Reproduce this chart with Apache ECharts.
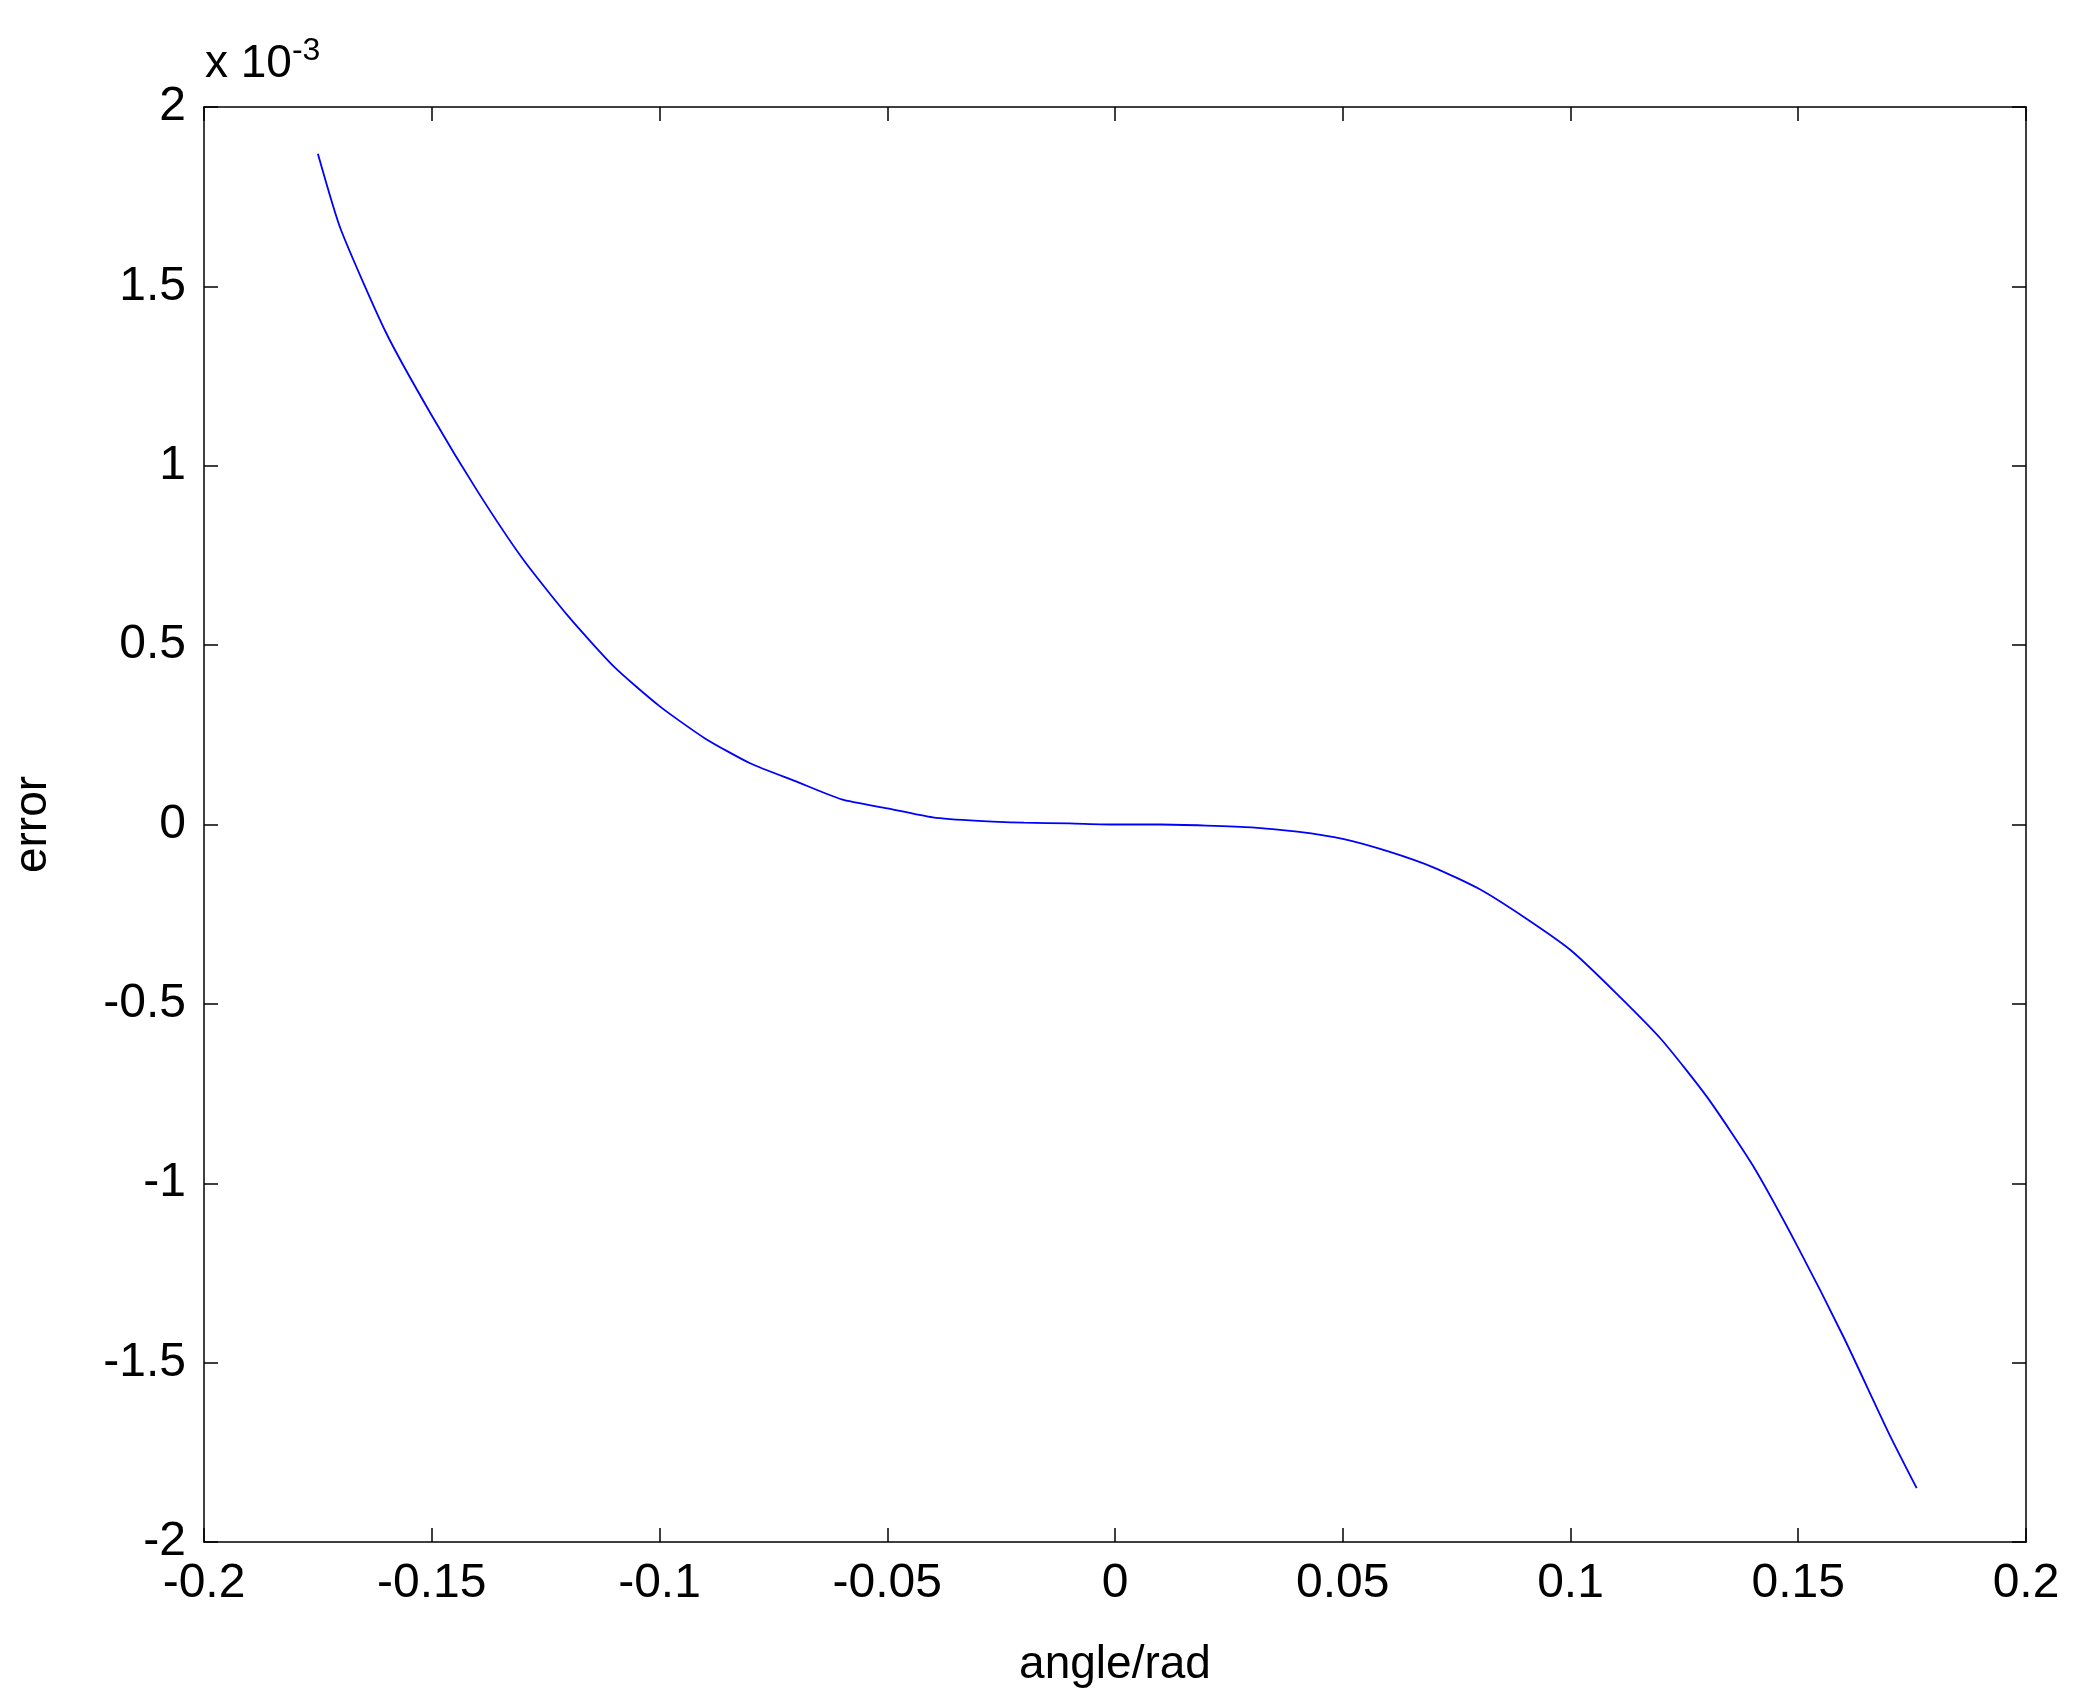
<!DOCTYPE html>
<html><head><meta charset="utf-8">
<script src="https://cdn.jsdelivr.net/npm/echarts@6/dist/echarts.min.js"></script>
<style>html,body{margin:0;background:#fff}#c{width:2080px;height:1706px}</style>
</head><body><div id="c"></div>
<script>
// angle (rad) and error (x 1e-3)
const angle = [-0.175,-0.17,-0.16,-0.15,-0.14,-0.13,-0.12,-0.11,-0.10,-0.09,-0.08,-0.07,-0.06,-0.05,-0.04,-0.03,-0.02,-0.01,0,0.01,0.02,0.03,0.04,0.05,0.06,0.07,0.08,0.09,0.10,0.11,0.12,0.13,0.14,0.15,0.16,0.17,0.176];
const error = [1.87,1.66,1.37,1.14,0.93,0.74,0.58,0.44,0.33,0.24,0.17,0.12,0.07,0.045,0.02,0.01,0.005,0.003,0,0,-0.003,-0.008,-0.02,-0.04,-0.075,-0.12,-0.18,-0.26,-0.35,-0.47,-0.60,-0.76,-0.95,-1.18,-1.43,-1.70,-1.85];

const font = 'Liberation Sans, Arial, sans-serif';
const chart = echarts.init(document.getElementById('c'));
const lbl = {color:'#000', fontSize:48, fontFamily:font, margin:18};
const line = {show:true, onZero:false, lineStyle:{color:'#000', width:1.5}};
const tick = {show:true, inside:true, length:14, lineStyle:{color:'#000', width:1.5}};
chart.setOption({
  animation:false,
  grid:{left:204, right:44+10, top:107, bottom:157+7},
  title:{text:'x 10{s|-3}', left:200, top:30,
    textStyle:{fontSize:46, fontFamily:font, fontWeight:'normal', color:'#000',
      rich:{s:{fontSize:32, fontFamily:font, color:'#000', verticalAlign:'top', padding:[0,0,26,0]}}}},
  xAxis:[
    {type:'value', min:-0.2, max:0.2, interval:0.05, axisLine:line, axisTick:tick, splitLine:{show:false},
     axisLabel:Object.assign({}, lbl, {formatter:v=>String(+v.toFixed(2))}),
     name:'angle/rad', nameLocation:'middle', nameGap:100,
     nameTextStyle:{fontSize:46, fontFamily:font, color:'#000'}},
    {type:'value', position:'top', min:-0.2, max:0.2, interval:0.05, axisLine:line, axisTick:tick,
     axisLabel:{show:false}, splitLine:{show:false}}
  ],
  yAxis:[
    {type:'value', min:-2, max:2, interval:0.5, axisLine:line, axisTick:tick, splitLine:{show:false},
     axisLabel:Object.assign({}, lbl, {formatter:v=>String(v)}),
     name:'error', nameLocation:'middle', nameGap:148,
     nameTextStyle:{fontSize:46, fontFamily:font, color:'#000'}},
    {type:'value', position:'right', min:-2, max:2, interval:0.5, axisLine:line, axisTick:tick,
     axisLabel:{show:false}, splitLine:{show:false}}
  ],
  series:[{type:'line', smooth:0.2, showSymbol:false,
    data:angle.map((a,i)=>[a,error[i]]),
    lineStyle:{color:'#0000ff', width:1.8}}]
});
</script></body></html>
